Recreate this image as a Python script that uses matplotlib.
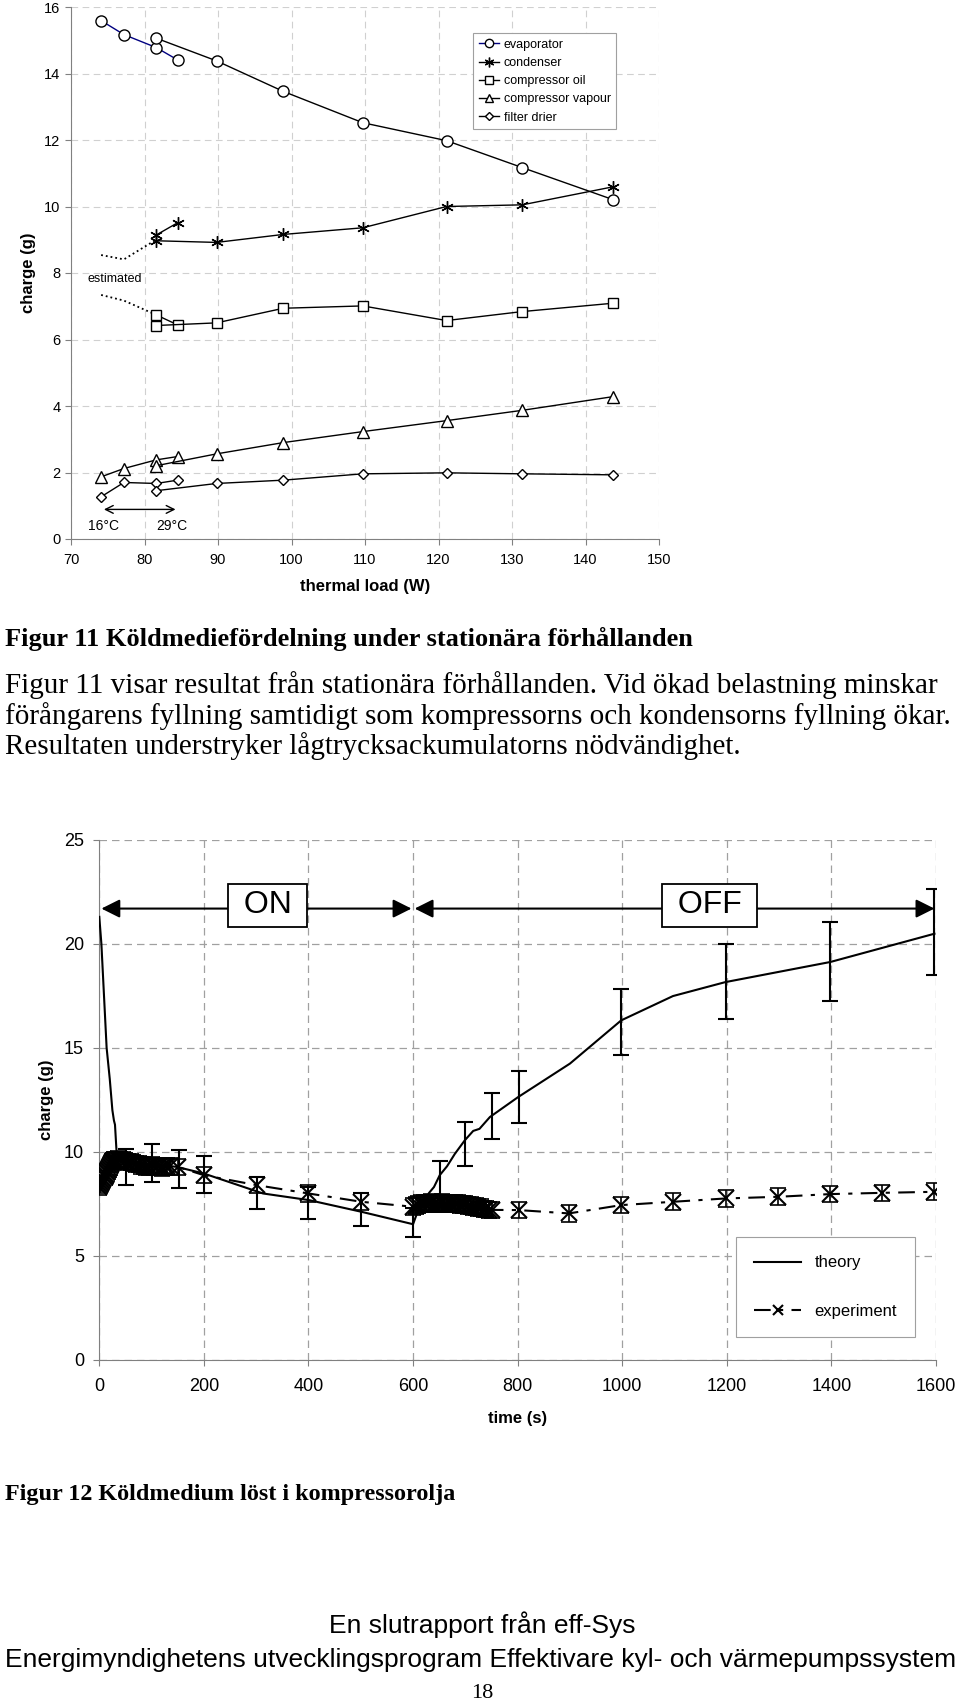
import numpy as np
import matplotlib
matplotlib.use("Agg")
import matplotlib.pyplot as plt
from matplotlib.lines import Line2D

plt.rcParams['font.family'] = ['Liberation Sans', 'DejaVu Sans']

# ---------------- Figur 11: laddning mot termisk last ----------------
# serie a = korta serien (16-29 C), serie b = lange serien
load_a = [74.1, 77.2, 81.6, 84.5]
load_a2 = [81.5, 84.5]
load_b = [81.5, 89.8, 98.9, 109.7, 121.1, 131.4, 143.7]
load_est = [74.1, 77.2, 81.5]

evap_a = [15.59, 15.17, 14.78, 14.41]
evap_b = [15.07, 14.38, 13.46, 12.52, 11.98, 11.17, 10.21]
cond_a = [9.13, 9.51]
cond_b = [8.97, 8.92, 9.16, 9.36, 10.00, 10.05, 10.59]
cond_est = [8.54, 8.41, 8.99]
oil_a = [6.75, 6.44]
oil_b = [6.42, 6.50, 6.94, 7.01, 6.57, 6.84, 7.09]
oil_est = [7.34, 7.17, 6.75]
vap_a = [1.87, 2.12, 2.38, 2.48]
vap_b = [2.20, 2.56, 2.90, 3.23, 3.56, 3.87, 4.28]
drier_a = [1.27, 1.70, 1.67, 1.77]
drier_b = [1.45, 1.67, 1.77, 1.96, 1.99, 1.96, 1.93]

# ---------------- Figur 12: koldmedium i kompressorolja ----------------
theory_t = [0, 4, 10, 14, 20, 25, 28, 30, 33, 38, 50, 100, 148, 200, 313, 401, 501, 600,
            610, 622, 630, 640, 651, 665, 680, 699, 715, 727, 747, 801, 900, 998,
            1097, 1197, 1398, 1597]
theory_y = [21.3, 20.0, 17.0, 15.0, 13.5, 12.0, 11.5, 11.3, 10.0, 9.6, 9.5, 9.4, 9.27,
            8.95, 7.99, 7.67, 7.11, 6.51, 7.2, 7.5, 8.0, 8.3, 8.87, 9.3, 9.9, 10.55,
            11.0, 11.1, 11.67, 12.63, 14.24, 16.32, 17.49, 18.16, 19.13, 20.49]

err_t = [51, 101, 152, 200, 301, 400, 501, 600, 651, 699, 751, 802, 998, 1199, 1398, 1597]
err_lo = [8.39, 8.55, 8.23, 7.99, 7.22, 6.75, 6.43, 5.90, 7.35, 9.32, 10.59, 11.36,
          14.64, 16.37, 17.24, 18.49]
err_hi = [10.15, 10.39, 10.07, 9.78, 8.79, 8.31, 7.99, 7.27, 9.54, 11.43, 12.83, 13.87,
          17.85, 19.98, 21.05, 22.62]

exp_t = [0, 2, 4, 6, 8, 10, 12, 14, 16, 18, 20, 22, 24, 26, 28, 30, 35, 40, 45, 50, 55,
         60, 65, 70, 75, 80, 85, 90, 95, 100, 105, 110, 115, 120, 125, 130, 135,
         150, 200, 301, 400, 501,
         600, 605, 610, 615, 620, 625, 630, 635, 640, 645, 650, 655, 660, 665, 670,
         675, 680, 685, 690, 695, 700, 705, 710, 715, 720, 725, 730, 735, 740, 745, 750,
         802, 898, 998, 1097, 1198, 1298, 1398, 1497, 1597]
exp_y = [8.3, 8.4, 8.5, 8.6, 8.7, 8.8, 8.9, 9.0, 9.1, 9.2, 9.3, 9.4, 9.5, 9.55, 9.6,
         9.6, 9.65, 9.6, 9.6, 9.55, 9.5, 9.5, 9.45, 9.4, 9.4, 9.35, 9.35, 9.3, 9.3,
         9.35, 9.3, 9.3, 9.3, 9.25, 9.3, 9.3, 9.3,
         9.27, 8.87, 8.39, 7.99, 7.59,
         7.35, 7.4, 7.45, 7.5, 7.5, 7.5, 7.5, 7.55, 7.5, 7.5, 7.5, 7.55, 7.5, 7.5, 7.5,
         7.5, 7.5, 7.5, 7.45, 7.45, 7.45, 7.4, 7.4, 7.35, 7.35, 7.3, 7.3, 7.25, 7.25,
         7.2, 7.2,
         7.19, 7.03, 7.43, 7.59, 7.75, 7.83, 7.96, 8.02, 8.07]

W, H = 960, 1707
fig = plt.figure(figsize=(W / 100, H / 100), dpi=100)


def fy(px):
    return 1 - px / H


# ---- ovre diagrammet ----
ax1 = fig.add_axes([71 / W, fy(539), (659 - 71) / W, (539 - 7) / H])
mk = dict(mfc='white', mec='black', mew=1.0)
navy = '#000080'
ax1.plot(load_a, evap_a, color=navy, lw=1, marker='o', ms=8, **mk)
ax1.plot(load_b, evap_b, color='black', lw=1, marker='o', ms=8, **mk)
ax1.plot(load_est, cond_est, color='black', lw=1.3, ls=':')
ax1.plot(load_est, oil_est, color='black', lw=1.3, ls=':')
ax1.plot(load_a2, cond_a, color='black', lw=1, marker=(6, 2, 0), ms=9, **mk)
ax1.plot(load_b, cond_b, color='black', lw=1, marker=(6, 2, 0), ms=9, **mk)
ax1.plot(load_a2, oil_a, color='black', lw=1, marker='s', ms=7, **mk)
ax1.plot(load_b, oil_b, color='black', lw=1, marker='s', ms=7, **mk)
ax1.plot(load_a, vap_a, color='black', lw=1, marker='^', ms=8, **mk)
ax1.plot(load_b, vap_b, color='black', lw=1, marker='^', ms=8, **mk)
ax1.plot(load_a, drier_a, color='black', lw=1, marker='D', ms=5.5, **mk)
ax1.plot(load_b, drier_b, color='black', lw=1, marker='D', ms=5.5, **mk)

ax1.set_xlim(70, 150)
ax1.set_ylim(0, 16)
ax1.set_xticks(range(70, 151, 10))
ax1.set_yticks(range(0, 17, 2))
ax1.tick_params(labelsize=10.5, length=4, color='#808080')
ax1.tick_params(axis='x', pad=6)
ax1.grid(True, ls=(0, (6, 4)), color='#d0d0d0', lw=0.8)
for s in ['top', 'right']:
    ax1.spines[s].set_visible(False)
for s in ['left', 'bottom']:
    ax1.spines[s].set_color('#808080')
ax1.set_ylabel('charge (g)', fontsize=12, fontweight='bold', labelpad=6)
ax1.set_xlabel('thermal load (W)', fontsize=12, fontweight='bold', labelpad=9)

ax1.text(72.3, 7.82, 'estimated', fontsize=9, va='center')
ax1.annotate('', xy=(84.6, 0.89), xytext=(74.1, 0.89),
             arrowprops=dict(arrowstyle='<->', color='black', lw=1, mutation_scale=14))
ax1.text(74.4, 0.40, '16°C', fontsize=10, ha='center', va='center')
ax1.text(83.7, 0.40, '29°C', fontsize=10, ha='center', va='center')

handles = [
    Line2D([], [], color=navy, lw=1, marker='o', ms=6, **mk),
    Line2D([], [], color='black', lw=1, marker=(6, 2, 0), ms=7, **mk),
    Line2D([], [], color='black', lw=1, marker='s', ms=6, **mk),
    Line2D([], [], color='black', lw=1, marker='^', ms=6, **mk),
    Line2D([], [], color='black', lw=1, marker='D', ms=4.5, **mk),
]
names = ['evaporator', 'condenser', 'compressor oil', 'compressor vapour', 'filter drier']
leg1 = ax1.legend(handles, names, loc='upper left', bbox_to_anchor=(473 / W, fy(33)),
                  bbox_transform=fig.transFigure, fontsize=9, fancybox=False,
                  framealpha=1, edgecolor='#a0a0a0', handlelength=1.6,
                  labelspacing=0.5, borderpad=0.45, handletextpad=0.4,
                  borderaxespad=0)
leg1.get_frame().set_linewidth(0.8)

# ---- texten ----
fig.text(5 / W, fy(646), 'Figur 11 Köldmediefördelning under stationära förhållanden',
         family='Liberation Serif', fontweight='bold', fontsize=19, va='baseline')
para = ['Figur 11 visar resultat från stationära förhållanden. Vid ökad belastning minskar',
        'förångarens fyllning samtidigt som kompressorns och kondensorns fyllning ökar.',
        'Resultaten understryker lågtrycksackumulatorns nödvändighet.']
for i, line in enumerate(para):
    fig.text(5 / W, fy(693 + 30.5 * i), line, family='Liberation Serif', fontsize=21,
             va='baseline')

# ---- nedre diagrammet ----
ax2 = fig.add_axes([99.3 / W, fy(1359.5), (936 - 99.3) / W, (1359.5 - 840) / H])
ax2.plot(theory_t, theory_y, color='black', lw=1.5, label='theory', zorder=3)
err_t = np.array(err_t)
err_lo = np.array(err_lo)
err_hi = np.array(err_hi)
ax2.errorbar(err_t, (err_lo + err_hi) / 2, yerr=(err_hi - err_lo) / 2, fmt='none',
             ecolor='black', elinewidth=1.5, capsize=6, capthick=1.5, zorder=3)
ax2.errorbar(exp_t, exp_y, yerr=0.4, fmt='none', ecolor='black', elinewidth=1.2,
             capsize=6, capthick=1.2, zorder=3)
ax2.plot(exp_t, exp_y, color='black', lw=1.5, ls=(0, (8, 4, 2, 4)), marker='x',
         ms=12, mew=1.5, label='experiment', zorder=4)

ax2.set_xlim(0, 1600)
ax2.set_ylim(0, 25)
ax2.set_xticks(range(0, 1601, 200))
ax2.set_yticks(range(0, 26, 5))
ax2.tick_params(labelsize=13, length=4, color='#808080')
ax2.tick_params(axis='x', pad=9)
ax2.tick_params(axis='y', pad=7)
ax2.grid(True, ls=(0, (6, 4)), color='#a0a0a0', lw=0.9)
for s in ['top', 'right']:
    ax2.spines[s].set_visible(False)
for s in ['left', 'bottom']:
    ax2.spines[s].set_color('#808080')
ax2.set_ylabel('charge (g)', fontsize=12, fontweight='bold', labelpad=7)
ax2.set_xlabel('time (s)', fontsize=12, fontweight='bold', labelpad=12)

arr = dict(arrowstyle='<|-|>', color='black', lw=1.5, mutation_scale=28,
           shrinkA=0, shrinkB=0)
ax2.annotate('', xy=(597, 21.7), xytext=(4, 21.7), arrowprops=arr)
ax2.annotate('', xy=(1597, 21.7), xytext=(603, 21.7), arrowprops=arr)
box = dict(boxstyle='square,pad=0.2', fc='white', ec='black', lw=1.3)
ax2.text(322, 21.85, ' ON ', fontsize=23, ha='center', va='center', bbox=box, zorder=5)
ax2.text(1167, 21.85, ' OFF ', fontsize=23, ha='center', va='center', bbox=box, zorder=5)

leg2 = ax2.legend(loc='upper left', bbox_to_anchor=(736 / W, fy(1237)),
                  bbox_transform=fig.transFigure, fontsize=12, fancybox=False,
                  framealpha=1, edgecolor='#a0a0a0', handlelength=2.8,
                  labelspacing=2.0, borderpad=1.1, markerscale=0.6,
                  borderaxespad=0)
leg2.get_frame().set_linewidth(0.8)

fig.text(5 / W, fy(1500), 'Figur 12 Köldmedium löst i kompressorolja',
         family='Liberation Serif', fontweight='bold', fontsize=17.4, va='baseline')

fig.text(482 / W, fy(1625), 'En slutrapport från eff-Sys', fontsize=19,
         ha='center', va='center')
fig.text(481 / W, fy(1660),
         'Energimyndighetens utvecklingsprogram Effektivare kyl- och värmepumpssystem',
         fontsize=19, ha='center', va='center')
fig.text(482 / W, fy(1694), '18', family='Liberation Serif', fontsize=16,
         ha='center', va='center')

fig.savefig('out.png', dpi=100)
